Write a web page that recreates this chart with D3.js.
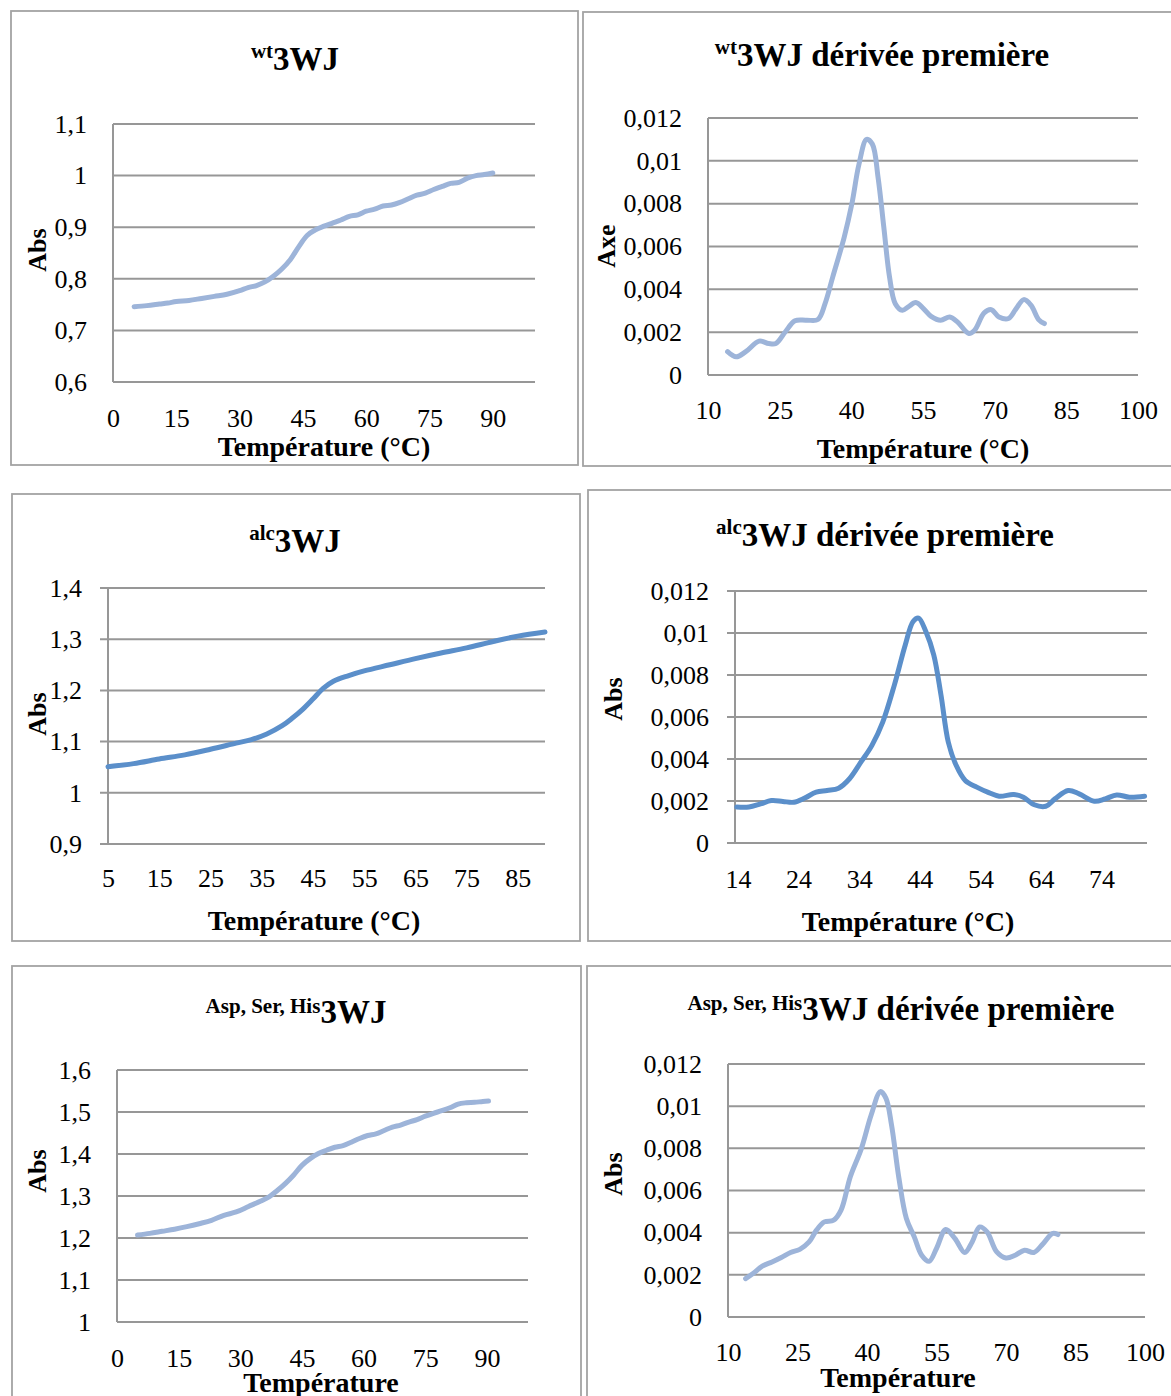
<!DOCTYPE html>
<html>
<head>
<meta charset="utf-8">
<script src="https://cdn.jsdelivr.net/npm/d3@7"></script>
<style>
  html, body { margin: 0; padding: 0; background: #ffffff; }
  svg { display: block; }
</style>
</head>
<body>
<script>
// ---------- DATA ----------
// wt3WJ melting curve
const wtTemp = [5, 8, 11, 13, 15, 18, 21, 24, 27, 30, 32, 34, 36, 38, 40, 42, 44, 46, 48, 50, 52, 54, 56, 58, 60, 62, 64, 66, 68, 70, 72, 74, 76, 78, 80, 82, 84, 86, 88, 90];
const wtAbs = [0.746, 0.748, 0.751, 0.753, 0.756, 0.758, 0.762, 0.766, 0.770, 0.777, 0.783, 0.787, 0.794, 0.805, 0.819, 0.837, 0.862, 0.884, 0.895, 0.902, 0.908, 0.914, 0.921, 0.924, 0.931, 0.935, 0.941, 0.943, 0.948, 0.955, 0.962, 0.966, 0.973, 0.979, 0.985, 0.987, 0.995, 1.000, 1.002, 1.005];

// wt3WJ first derivative
const wtDerTemp = [14.1, 15.9, 17.9, 20.7, 22.7, 24.2, 26.2, 28.2, 30.6, 33, 34.5, 36.1, 38.5, 40.1, 41.6, 43.2, 44.4, 45.6, 46.8, 48, 49.2, 50.7, 51.9, 53.5, 55.1, 56.7, 58.7, 60.6, 62.2, 64.6, 65.8, 67.8, 69.3, 70.9, 72.9, 74.5, 76.1, 77.6, 79.2, 80.4];
const wtDer = [0.00109, 0.00085, 0.00109, 0.00158, 0.00147, 0.00147, 0.00202, 0.00253, 0.00256, 0.00259, 0.00333, 0.00457, 0.00643, 0.00798, 0.00984, 0.0110, 0.01078, 0.00922, 0.0069, 0.00457, 0.00333, 0.00302, 0.00318, 0.00338, 0.0031, 0.00274, 0.00256, 0.00271, 0.00248, 0.00194, 0.00209, 0.0029, 0.00305, 0.00271, 0.00264, 0.0031, 0.00352, 0.00326, 0.00259, 0.0024];

// alc3WJ melting curve
const alcTemp = [5, 10, 15, 20, 25, 30, 33, 36, 39, 41, 43, 45, 47, 49, 52, 55, 60, 65, 70, 75, 80, 85, 90.3];
const alcAbs = [1.051, 1.057, 1.066, 1.074, 1.085, 1.097, 1.104, 1.115, 1.131, 1.146, 1.163, 1.183, 1.204, 1.218, 1.229, 1.238, 1.250, 1.262, 1.273, 1.283, 1.295, 1.306, 1.314];

// alc3WJ first derivative
const alcDerTemp = [13.8, 15.8, 17.7, 19.5, 21.4, 23.2, 25.0, 26.9, 28.7, 30.6, 32.4, 34.3, 36.1, 37.9, 39.8, 41.6, 42.9, 43.8, 45.0, 46.3, 47.5, 48.7, 50.0, 51.5, 53.4, 55.2, 57.1, 59.5, 61.1, 62.9, 64.8, 66.3, 68.5, 70.3, 72.8, 74.6, 76.5, 78.6, 81.1];
const alcDer = [0.00171, 0.00171, 0.00186, 0.00202, 0.00198, 0.00194, 0.00214, 0.00242, 0.0025, 0.00261, 0.00306, 0.00386, 0.00465, 0.00577, 0.00752, 0.00943, 0.01055, 0.01071, 0.01007, 0.00896, 0.00704, 0.00481, 0.0037, 0.00298, 0.00266, 0.00242, 0.00223, 0.00231, 0.00218, 0.00182, 0.00175, 0.0021, 0.0025, 0.00234, 0.00199, 0.0021, 0.00229, 0.00218, 0.00223];

// Asp, Ser, His 3WJ melting curve
const ashTemp = [5, 8, 11, 14, 17, 20, 23, 26, 29, 32, 35, 37, 39, 41, 43, 45, 47, 49, 51, 53, 55, 57, 59, 61, 63, 65, 67, 69, 71, 73, 75, 77, 79, 81, 83, 85, 87, 89, 90.4];
const ashAbs = [1.207, 1.211, 1.216, 1.221, 1.227, 1.234, 1.242, 1.254, 1.262, 1.275, 1.288, 1.298, 1.313, 1.330, 1.350, 1.373, 1.389, 1.401, 1.409, 1.416, 1.420, 1.428, 1.437, 1.444, 1.448, 1.456, 1.464, 1.469, 1.476, 1.482, 1.490, 1.497, 1.503, 1.510, 1.519, 1.522, 1.523, 1.525, 1.526];

// Asp, Ser, His 3WJ first derivative
const ashDerTemp = [13.8, 15.4, 17.4, 19.5, 21.5, 23.5, 25.5, 27.5, 29.1, 30.8, 32.8, 34.4, 36.4, 38.8, 40.9, 42.9, 44.1, 45.3, 46.9, 48.5, 50.2, 51.8, 53.4, 55.0, 57.0, 59.0, 61.1, 62.7, 64.3, 65.9, 68.0, 70.0, 72.0, 74.0, 76.0, 78.0, 80.0, 81.2];
const ashDer = [0.00182, 0.00206, 0.00241, 0.00261, 0.00282, 0.00306, 0.00321, 0.00356, 0.00412, 0.00451, 0.00459, 0.00507, 0.00665, 0.008, 0.00958, 0.01069, 0.01037, 0.0091, 0.00657, 0.00467, 0.0038, 0.00293, 0.00264, 0.00325, 0.00415, 0.00372, 0.00306, 0.00356, 0.00427, 0.00404, 0.00309, 0.0028, 0.00293, 0.00317, 0.00306, 0.00348, 0.00396, 0.00391];

// Tick values
const xTicks15From0 = [0, 15, 30, 45, 60, 75, 90];
const xTicks15From10 = [10, 25, 40, 55, 70, 85, 100];
const xTicksAlc = [5, 15, 25, 35, 45, 55, 65, 75, 85];
const xTicksAlcDer = [14, 24, 34, 44, 54, 64, 74];
const yTicksWt = [0.6, 0.7, 0.8, 0.9, 1.0, 1.1];
const yTicksAlc = [0.9, 1.0, 1.1, 1.2, 1.3, 1.4];
const yTicksAsh = [1.0, 1.1, 1.2, 1.3, 1.4, 1.5, 1.6];
const yTicksDer = [0, 0.002, 0.004, 0.006, 0.008, 0.01, 0.012];

// Titles / labels
const titleSups = ["wt", "wt", "alc", "alc", "Asp, Ser, His", "Asp, Ser, His"];
const titleMains = ["3WJ", "3WJ dérivée première", "3WJ", "3WJ dérivée première", "3WJ", "3WJ dérivée première"];
const yTitles = ["Abs", "Axe", "Abs", "Abs", "Abs", "Abs"];
const xTitles = ["Température (°C)", "Température (°C)", "Température (°C)", "Température (°C)", "Température", "Température"];

// ---------- RENDER ----------
const W = 1171, H = 1396;
const svg = d3.select("body").append("svg").attr("width", W).attr("height", H);

const fr = d3.formatLocale({decimal: ",", thousands: " ", grouping: [3], currency: ["", ""]});
const fmt = fr.format("~g");

const LIGHT = "#9db4d9";
const DARK = "#5b8fca";
const GRID = "#979797";
const SERIF = "'Liberation Serif', 'Times New Roman', serif";

const panels = [
  {frame: [11, 11, 567, 454], px: [113, 535], py: [382, 124], xd: [0, 100], yd: [0.6, 1.1],
   xs: wtTemp, ys: wtAbs, xt: xTicks15From0, yt: yTicksWt, color: LIGHT, ext: 0, xpad: 26.5,
   title: [295, 70], sup: 12, supSize: 21, xTitle: [324, 456], yTitle: [37, 250]},
  {frame: [583, 12, 600, 454], px: [708, 1138], py: [375, 118], xd: [10, 100], yd: [0, 0.012],
   xs: wtDerTemp, ys: wtDer, xt: xTicks15From10, yt: yTicksDer, color: LIGHT, ext: 0, xpad: 25.5,
   title: [882, 66], sup: 12, supSize: 21, xTitle: [923, 458], yTitle: [606, 246]},
  {frame: [12, 494, 568, 447], px: [108, 545], py: [844, 588], xd: [5, 90.3], yd: [0.9, 1.4],
   xs: alcTemp, ys: alcAbs, xt: xTicksAlc, yt: yTicksAlc, color: DARK, ext: 8, xpad: 24.5,
   title: [295, 552], sup: 12, supSize: 21, xTitle: [314, 930], yTitle: [37, 714]},
  {frame: [588, 490, 600, 451], px: [735, 1147], py: [843, 591], xd: [13.5, 81.5], yd: [0, 0.012],
   xs: alcDerTemp, ys: alcDer, xt: xTicksAlcDer, yt: yTicksDer, color: DARK, ext: 8, xpad: 26.5,
   title: [885, 546], sup: 12, supSize: 21, xTitle: [908, 931], yTitle: [613, 699]},
  {frame: [12, 966, 569, 440], px: [117, 528], py: [1322, 1070], xd: [0, 100], yd: [1.0, 1.6],
   xs: ashTemp, ys: ashAbs, xt: xTicks15From0, yt: yTicksAsh, color: LIGHT, ext: 0, xpad: 26.5,
   title: [296, 1023], sup: 10, supSize: 21, xTitle: [321, 1392], yTitle: [37, 1171]},
  {frame: [587, 966, 600, 440], px: [728, 1145], py: [1317, 1064], xd: [10, 100], yd: [0, 0.012],
   xs: ashDerTemp, ys: ashDer, xt: xTicks15From10, yt: yTicksDer, color: LIGHT, ext: 0, xpad: 25.5,
   title: [901, 1020], sup: 10, supSize: 21, xTitle: [898, 1387], yTitle: [613, 1174]}
];

panels.forEach((p, i) => {
  const g = svg.append("g");
  // frame
  g.append("rect")
    .attr("x", p.frame[0]).attr("y", p.frame[1])
    .attr("width", p.frame[2]).attr("height", p.frame[3])
    .attr("fill", "#fff").attr("stroke", "#a3a3a3").attr("stroke-width", 1.8);

  const x = d3.scaleLinear().domain(p.xd).range(p.px);
  const y = d3.scaleLinear().domain(p.yd).range(p.py);

  // gridlines
  g.append("g").selectAll("line").data(p.yt).join("line")
    .attr("x1", p.px[0] - p.ext).attr("x2", p.px[1])
    .attr("y1", d => y(d)).attr("y2", d => y(d))
    .attr("stroke", GRID).attr("stroke-width", 2);

  // y axis line
  g.append("line")
    .attr("x1", p.px[0]).attr("x2", p.px[0])
    .attr("y1", p.py[1]).attr("y2", p.py[0])
    .attr("stroke", GRID).attr("stroke-width", 2);

  // y axis labels
  const yAxis = d3.axisLeft(y).tickValues(p.yt).tickFormat(fmt).tickSize(0).tickPadding(26);
  const ya = g.append("g").attr("transform", `translate(${p.px[0]},0)`).call(yAxis);
  ya.select(".domain").remove();
  ya.selectAll("text").attr("font-family", SERIF).attr("font-size", 26).attr("fill", "#000");

  // x axis labels
  const xAxis = d3.axisBottom(x).tickValues(p.xt).tickFormat(fmt).tickSize(0).tickPadding(p.xpad);
  const xa = g.append("g").attr("transform", `translate(0,${p.py[0]})`).call(xAxis);
  xa.select(".domain").remove();
  xa.selectAll("text").attr("font-family", SERIF).attr("font-size", 26).attr("fill", "#000");

  // line
  const pts = p.xs.map((v, k) => [v, p.ys[k]]);
  const line = d3.line().x(d => x(d[0])).y(d => y(d[1])).curve(d3.curveCatmullRom.alpha(0.5));
  g.append("path").datum(pts).attr("d", line)
    .attr("fill", "none").attr("stroke", p.color).attr("stroke-width", 5)
    .attr("stroke-linecap", "round").attr("stroke-linejoin", "round");

  // title
  const t = g.append("text").attr("x", p.title[0]).attr("y", p.title[1])
    .attr("text-anchor", "middle").attr("font-family", SERIF).attr("font-weight", "bold").attr("fill", "#000");
  t.append("tspan").attr("font-size", p.supSize).attr("dy", -p.sup).text(titleSups[i]);
  t.append("tspan").attr("font-size", 33).attr("dy", p.sup).text(titleMains[i]);

  // x title
  g.append("text").attr("x", p.xTitle[0]).attr("y", p.xTitle[1])
    .attr("text-anchor", "middle").attr("font-family", SERIF).attr("font-weight", "bold")
    .attr("font-size", 28).attr("fill", "#000").text(xTitles[i]);

  // y title
  g.append("text").attr("transform", `translate(${p.yTitle[0] + 9},${p.yTitle[1]}) rotate(-90)`)
    .attr("text-anchor", "middle").attr("font-family", SERIF).attr("font-weight", "bold")
    .attr("font-size", 26).attr("fill", "#000").text(yTitles[i]);
});
</script>
</body>
</html>
